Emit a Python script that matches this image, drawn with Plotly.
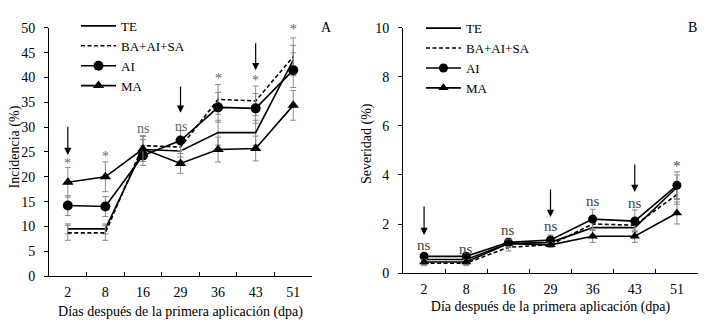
import plotly.graph_objects as go

days = ["2", "8", "16", "29", "36", "43", "51"]
series_names = ["TE", "BA+AI+SA", "AI", "MA"]

# Panel A: Incidencia (%)
inc_TE = [9.5, 9.5, 25.5, 25.2, 28.9, 28.9, 43.5]
inc_BA = [8.7, 8.7, 26.3, 26.0, 35.6, 35.3, 44.2]
inc_AI = [14.2, 14.0, 24.3, 27.3, 34.0, 33.8, 41.5]
inc_MA = [18.9, 20.0, 25.6, 22.7, 25.5, 25.7, 34.4]
inc_TE_err = [1.0, 1.0, 2.0, 2.0, 2.5, 2.5, 3.0]
inc_BA_err = [1.5, 1.5, 2.0, 2.0, 3.0, 3.0, 3.8]
inc_AI_err = [2.0, 2.0, 2.0, 2.0, 3.0, 3.0, 3.5]
inc_MA_err = [3.0, 3.0, 2.5, 2.0, 2.5, 2.5, 3.0]

# Panel B: Severidad (%)
sev_TE = [0.55, 0.55, 1.2, 1.25, 1.85, 1.85, 3.5]
sev_BA = [0.4, 0.4, 1.05, 1.15, 2.0, 1.95, 3.2]
sev_AI = [0.68, 0.68, 1.25, 1.35, 2.2, 2.12, 3.58]
sev_MA = [0.45, 0.45, 1.2, 1.15, 1.5, 1.5, 2.45]
sev_TE_err = [0.15, 0.15, 0.15, 0.15, 0.3, 0.3, 0.5]
sev_BA_err = [0.1, 0.1, 0.15, 0.1, 0.25, 0.25, 0.4]
sev_AI_err = [0.15, 0.15, 0.15, 0.2, 0.4, 0.45, 0.55]
sev_MA_err = [0.1, 0.1, 0.15, 0.1, 0.25, 0.25, 0.45]

# significance labels and their heights
sig_A = ["*", "*", "ns", "ns", "*", "*", "*"]
sig_A_y = [22.6, 24.0, 29.8, 30.2, 39.8, 39.4, 49.6]
sig_B = ["ns", "ns", "ns", "ns", "ns", "ns", "*"]
sig_B_y = [1.15, 1.0, 1.75, 1.9, 2.95, 2.85, 4.35]

# application arrows (day, tail, tip)
arrow_days = ["2", "29", "43"]
arrow_A_tail = [30.4, 38.5, 47.2]
arrow_A_tip = [24.4, 32.9, 41.5]
arrow_B_tail = [2.78, 3.47, 4.49]
arrow_B_tip = [1.55, 2.29, 3.31]

FONT = "Liberation Serif, Times New Roman, serif"
ERRC = "#8a8a8a"

fig = go.Figure()

styles = [
    dict(mode="lines", line=dict(color="black", width=1.6)),
    dict(mode="lines", line=dict(color="black", width=1.6, dash="4px,2.5px")),
    dict(mode="lines+markers", line=dict(color="black", width=1.6),
         marker=dict(symbol="circle", size=10, color="black")),
    dict(mode="lines+markers", line=dict(color="black", width=1.6),
         marker=dict(symbol="triangle-up", size=10, color="black")),
]

A_vals = [inc_TE, inc_BA, inc_AI, inc_MA]
A_errs = [inc_TE_err, inc_BA_err, inc_AI_err, inc_MA_err]
B_vals = [sev_TE, sev_BA, sev_AI, sev_MA]
B_errs = [sev_TE_err, sev_BA_err, sev_AI_err, sev_MA_err]

for name, v, e, st in zip(series_names, A_vals, A_errs, styles):
    fig.add_trace(go.Scatter(
        x=days, y=v, name=name, xaxis="x", yaxis="y", legend="legend",
        error_y=dict(type="data", array=e, color=ERRC, thickness=1, width=3),
        **st))

for name, v, e, st in zip(series_names, B_vals, B_errs, styles):
    st2 = dict(st)
    if "marker" in st2:
        st2["marker"] = dict(st2["marker"], size=9)
    fig.add_trace(go.Scatter(
        x=days, y=v, name=name, xaxis="x2", yaxis="y2", legend="legend2",
        error_y=dict(type="data", array=e, color=ERRC, thickness=1, width=3),
        **st2))

def cat(d):
    return days.index(d)

annotations = []
for d, t, yv in zip(days, sig_A, sig_A_y):
    annotations.append(dict(x=cat(d), y=yv, xref="x", yref="y", text=t, showarrow=False,
                            font=dict(family=FONT, size=14, color="#666666")))
for d, t, yv in zip(days, sig_B, sig_B_y):
    annotations.append(dict(x=cat(d), y=yv, xref="x2", yref="y2", text=t, showarrow=False,
                            font=dict(family=FONT, size=15, color="#444444")))
for d, tail, tip in zip(arrow_days, arrow_A_tail, arrow_A_tip):
    annotations.append(dict(x=cat(d), y=tip, ax=cat(d), ay=tail, xref="x", yref="y",
                            axref="x", ayref="y", text="", showarrow=True,
                            arrowhead=2, arrowsize=1.2, arrowwidth=1.2, arrowcolor="black"))
for d, tail, tip in zip(arrow_days, arrow_B_tail, arrow_B_tip):
    annotations.append(dict(x=cat(d), y=tip, ax=cat(d), ay=tail, xref="x2", yref="y2",
                            axref="x2", ayref="y2", text="", showarrow=True,
                            arrowhead=2, arrowsize=1.2, arrowwidth=1.2, arrowcolor="black"))
annotations.append(dict(x=0.448, y=0.9387, xref="paper", yref="paper", text="A",
                        xanchor="center", yanchor="middle",
                        showarrow=False, font=dict(family=FONT, size=14, color="black")))
annotations.append(dict(x=0.962, y=0.9387, xref="paper", yref="paper", text="B",
                        xanchor="center", yanchor="middle",
                        showarrow=False, font=dict(family=FONT, size=14, color="black")))
# y-axis titles
annotations.append(dict(x=0.0105, y=0.5736, xref="paper", yref="paper", text="Incidencia (%)",
                        textangle=-90, xanchor="center", yanchor="middle", showarrow=False,
                        font=dict(family=FONT, size=14, color="black")))
annotations.append(dict(x=0.5042, y=0.5859, xref="paper", yref="paper", text="Severidad (%)",
                        textangle=-90, xanchor="center", yanchor="middle", showarrow=False,
                        font=dict(family=FONT, size=14, color="black")))

xcommon = dict(type="category", range=[-0.5, 6.5], showline=True, linecolor="black",
               linewidth=1, ticks="inside", tickson="boundaries", ticklen=4,
               tickcolor="black", showgrid=False, zeroline=False, automargin=False,
               ticklabelstandoff=3,
               tickfont=dict(family=FONT, size=14, color="black"))
ycommon = dict(showline=True, linecolor="black", linewidth=1, ticks="outside",
               ticklen=4, tickcolor="black", showgrid=False, zeroline=False,
               automargin=False,
               tickfont=dict(family=FONT, size=14, color="black"))

fig.update_layout(
    width=712, height=326,
    margin=dict(l=0, r=0, t=0, b=0, autoexpand=False),
    paper_bgcolor="white", plot_bgcolor="white",
    font=dict(family=FONT, size=14, color="black"),
    xaxis=dict(xcommon, domain=[0.0576, 0.4270], anchor="y",
               title=dict(text="Días después de la primera aplicación (dpa)",
                          font=dict(family=FONT, size=14), standoff=7)),
    yaxis=dict(ycommon, domain=[0.1779, 0.9387], anchor="x", range=[0, 50], dtick=5,
               ticklabelstandoff=6),
    xaxis2=dict(xcommon, domain=[0.5548, 0.9691], anchor="y2",
                title=dict(text="Día después de la primera aplicación (dpa)",
                           font=dict(family=FONT, size=14), standoff=5)),
    yaxis2=dict(ycommon, domain=[0.1871, 0.9387], anchor="x2", range=[0, 10], dtick=2,
                ticklabelstandoff=6),
    legend=dict(x=0.0955, y=0.991, xanchor="left", yanchor="top", bgcolor="rgba(0,0,0,0)",
                font=dict(family=FONT, size=13), tracegroupgap=0, itemwidth=35),
    legend2=dict(x=0.580, y=0.984, xanchor="left", yanchor="top", bgcolor="rgba(0,0,0,0)",
                 font=dict(family=FONT, size=13), tracegroupgap=0, itemwidth=35),
    showlegend=True,
    annotations=annotations,
)

fig.write_html("out.html")
